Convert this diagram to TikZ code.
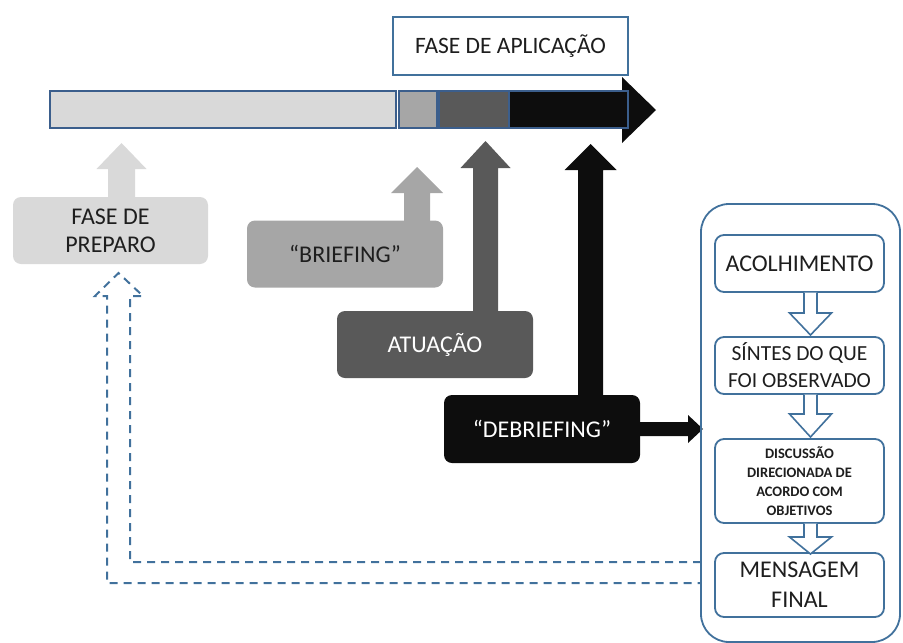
\documentclass[tikz,border=0pt]{standalone}
\usepackage{fontspec}
\setmainfont{Carlito}
\definecolor{lg}{HTML}{D9D9D9}
\definecolor{mg}{HTML}{A6A6A6}
\definecolor{dg}{HTML}{595959}
\definecolor{bk}{HTML}{0D0D0D}
\definecolor{barln}{HTML}{3B5E8C}
\definecolor{blueln}{HTML}{41719C}
\definecolor{txt}{HTML}{1E1E1E}
\newcommand\blockup[7]{%
  \fill[#1] (#2-#6,#3) -- (#2-#6,#4) -- (#2-#7,#4) -- (#2,#5) -- (#2+#7,#4) -- (#2+#6,#4) -- (#2+#6,#3) -- cycle;}
\newcommand\hollowdown[6]{%
  \draw[blueln,line width=1.6pt,fill=white,line join=miter] (#1-#5,#2) -- (#1-#5,#3) -- (#1-#6,#3) -- (#1,#4) -- (#1+#6,#3) -- (#1+#5,#3) -- (#1+#5,#2);}
\begin{document}
\begin{tikzpicture}[x=1pt,y=-1pt,
  seg/.style={draw=barln,line width=1.5pt,minimum height=37pt,inner sep=0pt,anchor=center},
  phase/.style={rounded corners=8pt,minimum width=196pt,minimum height=67pt,inner sep=0pt,align=center,font=\fontsize{24}{28}\selectfont},
  stepbox/.style={draw=blueln,line width=1.8pt,rounded corners=9pt,minimum width=169pt,inner sep=0pt,align=center,fill=white,text=txt}]
\useasboundingbox (0,0) rectangle (903,643);
\clip (0,0) rectangle (903,643);

% timeline arrow head
\fill[bk] (622,77) -- (656,110) -- (622,143) -- cycle;
% timeline segments
\node[seg,fill=lg,minimum width=346pt] (s1) at (223,109.5) {};
\node[seg,fill=mg,minimum width=38pt] (s2) at (418,109.5) {};
\node[seg,fill=dg,minimum width=70pt] (s3) at (474,109.5) {};
\node[seg,fill=bk,minimum width=119pt] (s4) at (568.5,109.5) {};

% phase application label
\node[draw=blueln,line width=1.8pt,fill=white,minimum width=235pt,minimum height=58pt,inner sep=0pt,
  font=\fontsize{23.5}{26}\selectfont,text=txt] (apl) at (510.5,46) {FASE DE APLICAÇÃO};

% phase boxes
\node[phase,fill=lg,text=txt,minimum width=195pt] (prep) at (110.5,230.5) {FASE DE\\PREPARO};
\node[phase,fill=mg,text=txt] (brief) at (345,254) {“BRIEFING”};
\node[phase,fill=dg,text=white] (atu) at (435,344.5) {ATUAÇÃO};
\node[phase,fill=bk,text=white,minimum height=68pt] (deb) at (542,429) {“DEBRIEFING”};

% up block arrows
\blockup{lg}{121.5}{198}{169}{143}{13.5}{25}
\blockup{mg}{417}{221}{193}{167}{13}{26}
\blockup{dg}{485.5}{312}{168}{141}{12.5}{25}
\blockup{bk}{590.5}{396}{170}{144}{12.5}{26}

% right arrow from debriefing
\fill[bk] (639,422) -- (688,422) -- (688,415) -- (703,429) -- (688,443) -- (688,436) -- (639,436) -- cycle;

% container
\draw[blueln,line width=1.8pt,rounded corners=28pt] (701,204) rectangle (900,642);
\coordinate (cL1) at (701,562);
\coordinate (cL2) at (701,583);

% steps
\node[stepbox,minimum height=57pt,font=\fontsize{24}{27}\selectfont] (acol) at (799.5,263.5) {ACOLHIMENTO};
\node[stepbox,minimum height=57pt,font=\fontsize{21.5}{27}\selectfont] (sint) at (799.5,365.5) {SÍNTES DO QUE\\FOI OBSERVADO};
\node[stepbox,minimum height=84pt,font=\bfseries\fontsize{14.5}{19}\selectfont] (disc) at (799.5,481) {DISCUSSÃO\\DIRECIONADA DE\\ACORDO COM\\OBJETIVOS};
\node[stepbox,minimum height=64pt,font=\fontsize{24}{30}\selectfont] (mens) at (799.5,585) {MENSAGEM\\FINAL};

\hollowdown{810.5}{292.5}{313}{335}{6.5}{21}
\hollowdown{810.5}{394.5}{414}{437}{6.5}{21}
\hollowdown{810.5}{523.5}{537}{554}{6.5}{21}

% dashed return arrow
\draw[blueln,line width=2pt,dash pattern=on 8pt off 6pt]
  (cL1) -- (130,562) -- (130,296) -- (143,296) -- (118.5,273) -- (95,296) -- (107,296) -- (107,583) -- (cL2);
\end{tikzpicture}
\end{document}
